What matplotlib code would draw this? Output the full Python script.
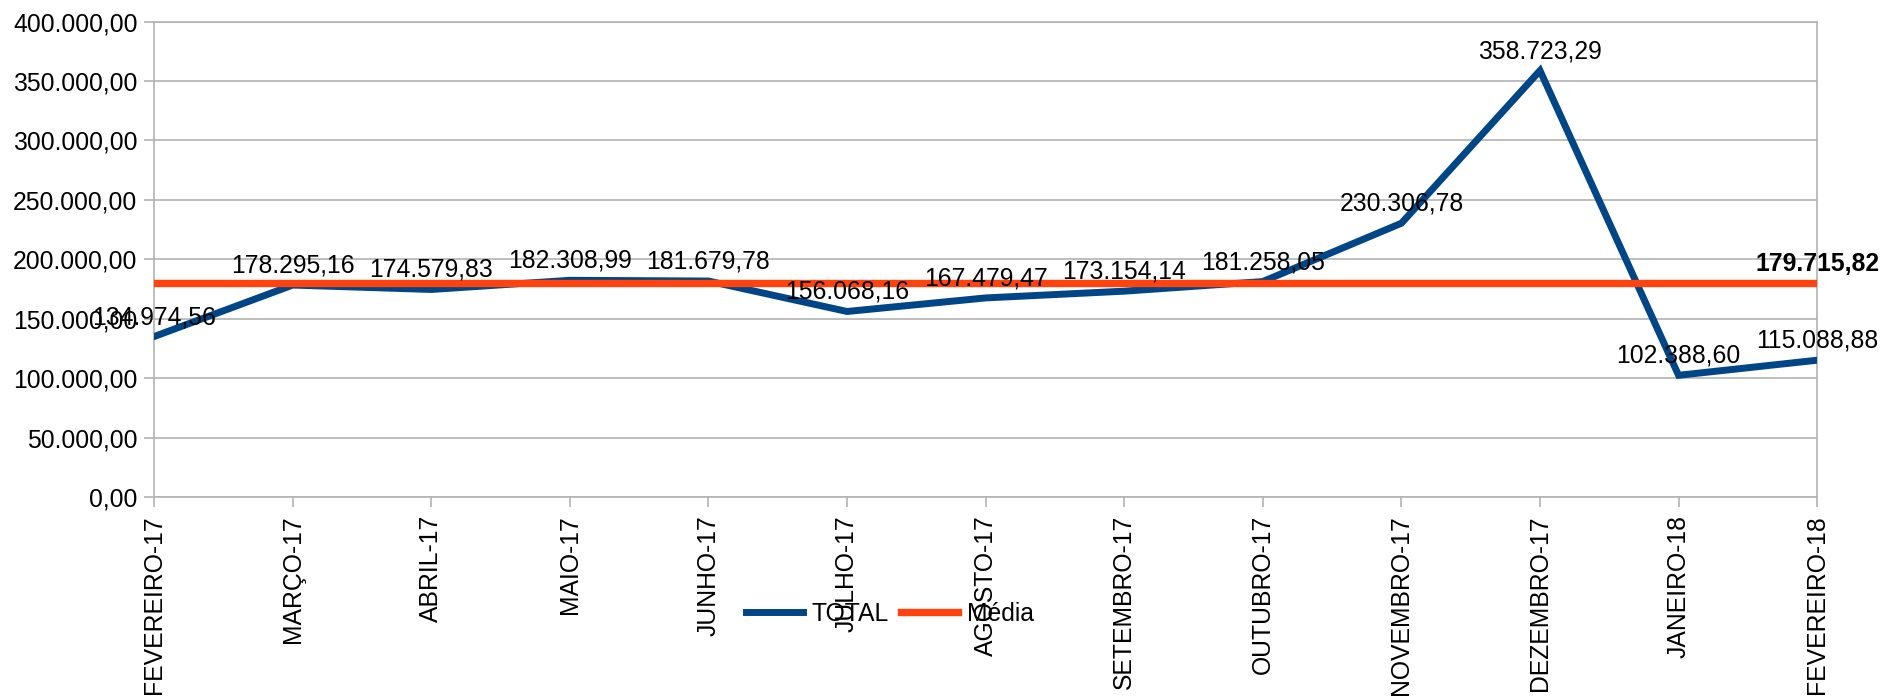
import matplotlib
matplotlib.use("Agg")
import matplotlib.pyplot as plt
from matplotlib.ticker import FuncFormatter

# =====================================================
# DADOS
# =====================================================

MESES = [
    "FEVEREIRO-17", "MARÇO-17", "ABRIL-17", "MAIO-17", "JUNHO-17",
    "JULHO-17", "AGOSTO-17", "SETEMBRO-17", "OUTUBRO-17", "NOVEMBRO-17",
    "DEZEMBRO-17", "JANEIRO-18", "FEVEREIRO-18",
]

TOTAL = [
    134974.56, 178295.16, 174579.83, 182308.99, 181679.78,
    156068.16, 167479.47, 173154.14, 181258.05, 230306.78,
    358723.29, 102388.60, 115088.88,
]

MEDIA = [179715.82] * len(MESES)

Y_TICKS = [0, 50000, 100000, 150000, 200000, 250000, 300000, 350000, 400000]

AZUL = "#004586"
LARANJA = "#ff420e"
CINZA = "#b3b3b3"


def formata_br(valor):
    """Formata número no padrão brasileiro: 178.295,16"""
    texto = f"{valor:,.2f}"
    return texto.replace(",", "X").replace(".", ",").replace("X", ".")


plt.rcParams["font.family"] = ["Liberation Sans", "DejaVu Sans"]
plt.rcParams["font.size"] = 17.8

fig = plt.figure(figsize=(19, 6.96), dpi=100)
ax = fig.add_axes([0.0811, 0.2859, 0.8753, 0.6832])

x = list(range(len(MESES)))

ax.plot(x, TOTAL, color=AZUL, linewidth=5.0, label="TOTAL",
        solid_joinstyle="miter", zorder=3)
ax.plot(x, MEDIA, color=LARANJA, linewidth=5.3, label="Média", zorder=4)

# rótulos de dados
for xi, yi in zip(x, TOTAL):
    ax.annotate(formata_br(yi), (xi, yi), xytext=(0, 9),
                textcoords="offset points", ha="center", va="baseline",
                zorder=6, annotation_clip=False)

ax.annotate(formata_br(MEDIA[-1]), (x[-1], MEDIA[-1]), xytext=(0, 9),
            textcoords="offset points", ha="center", va="baseline",
            fontweight="bold", zorder=6, annotation_clip=False)

ax.set_xlim(0, len(MESES) - 1)
ax.set_ylim(0, 400000)
ax.set_yticks(Y_TICKS)
ax.yaxis.set_major_formatter(FuncFormatter(lambda v, p: formata_br(v)))
ax.set_xticks(x)
ax.set_xticklabels(MESES, rotation=90, va="top")

ax.grid(axis="y", color=CINZA, linewidth=1.2, zorder=0)
ax.grid(axis="x", visible=False)
for lado in ["left", "right", "top", "bottom"]:
    ax.spines[lado].set_color(CINZA)
    ax.spines[lado].set_linewidth(1.2)

ax.tick_params(axis="both", colors=CINZA, labelcolor="black", length=7,
               width=1.2)
ax.tick_params(axis="y", pad=5)
ax.tick_params(axis="x", pad=6)

fig.legend(loc="center", bbox_to_anchor=(0.4684, 0.1178), ncol=2,
           frameon=False, handlelength=2.3, handletextpad=0.35,
           columnspacing=0.5, fontsize=17.8)

fig.savefig("out.png", dpi=100)
